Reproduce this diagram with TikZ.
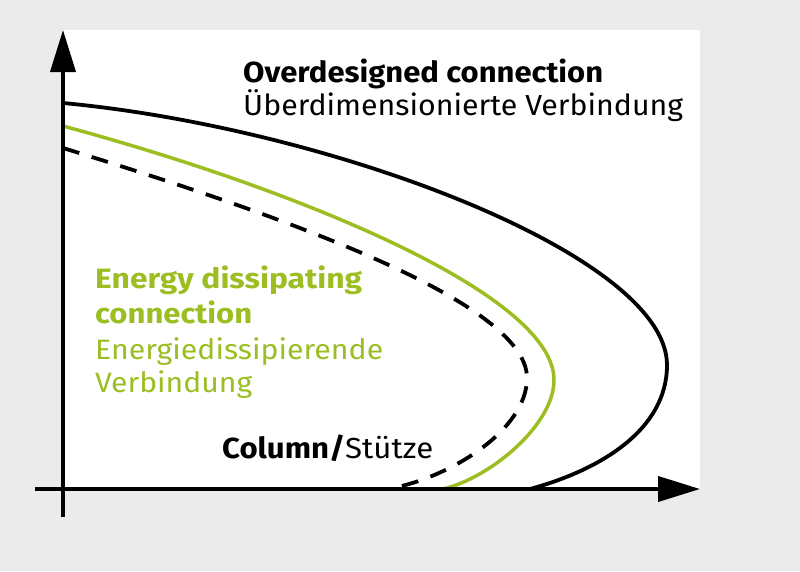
\documentclass[tikz,border=0pt]{standalone}
\usepackage{fontspec}
\usepackage{graphicx}
\setmainfont{Fira Sans}
\usetikzlibrary{arrows.meta}
\definecolor{bgray}{HTML}{EBEBEB}
\definecolor{lgreen}{HTML}{9CBE22}
\newcommand{\fitw}[2]{\resizebox{#1}{\height}{#2}}
\begin{document}
\begin{tikzpicture}[x=1pt,y=-1pt,
  axisline/.style={line width=3.8pt,black,-{Triangle[length=42pt,width=25pt]}},
  curveblack/.style={line width=3.8pt,black},
  curvegreen/.style={line width=3.5pt,lgreen},
  curvedash/.style={line width=3.8pt,black,dash pattern=on 17pt off 13pt},
  lbl/.style={inner sep=0pt,anchor=base west,font=\fontsize{29}{33}\selectfont},
  glbl/.style={lbl,text=lgreen,font=\fontsize{28}{33}\selectfont}]
\useasboundingbox (0,0) rectangle (800,571);
\fill[bgray] (0,0) rectangle (800,571);
\fill[white] (63,30) rectangle (700,489);
% curves
\coordinate (bA) at (63,103);
\coordinate (bB) at (667,365);
\coordinate (bC) at (530,489);
\draw[curveblack] (bA) .. controls (330,128) and (667,255) .. (bB)
  .. controls (667,430) and (600,470) .. (bC);
\coordinate (gA) at (63,126);
\coordinate (gB) at (554,380);
\coordinate (gC) at (443,489);
\draw[curvegreen] (gA) .. controls (300,190) and (554,295) .. (gB)
  .. controls (554,425) and (490,478) .. (gC);
\coordinate (dA) at (63,148);
\coordinate (dB) at (527,378);
\coordinate (dC) at (388,489);
\draw[curvedash] (dA) .. controls (270,212) and (527,300) .. (dB)
  .. controls (527,430) and (450,478) .. (dC);
% axes
\coordinate (ybot) at (63,517);
\coordinate (ytop) at (63,30);
\coordinate (xleft) at (35,489);
\coordinate (xright) at (700,489);
\draw[axisline] (ybot) -- (ytop);
\draw[axisline] (xleft) -- (xright);
% labels
\node[lbl] (over1) at (243,82) {\fitw{360pt}{\bfseries Overdesigned connection}};
\node[lbl] (over2) at (243,115) {\fitw{440pt}{Überdimensionierte Verbindung}};
\node[glbl] (en1) at (95,288) {\fitw{267pt}{\bfseries Energy dissipating}};
\node[glbl] (en2) at (95,323) {\fitw{157pt}{\bfseries connection}};
\node[glbl] (en3) at (95,359) {\fitw{288pt}{Energiedissipierende}};
\node[glbl] (en4) at (95,392) {\fitw{157pt}{Verbindung}};
\node[lbl] (col) at (222,458) {\fitw{211pt}{\textbf{Column/}Stütze}};
\end{tikzpicture}
\end{document}
